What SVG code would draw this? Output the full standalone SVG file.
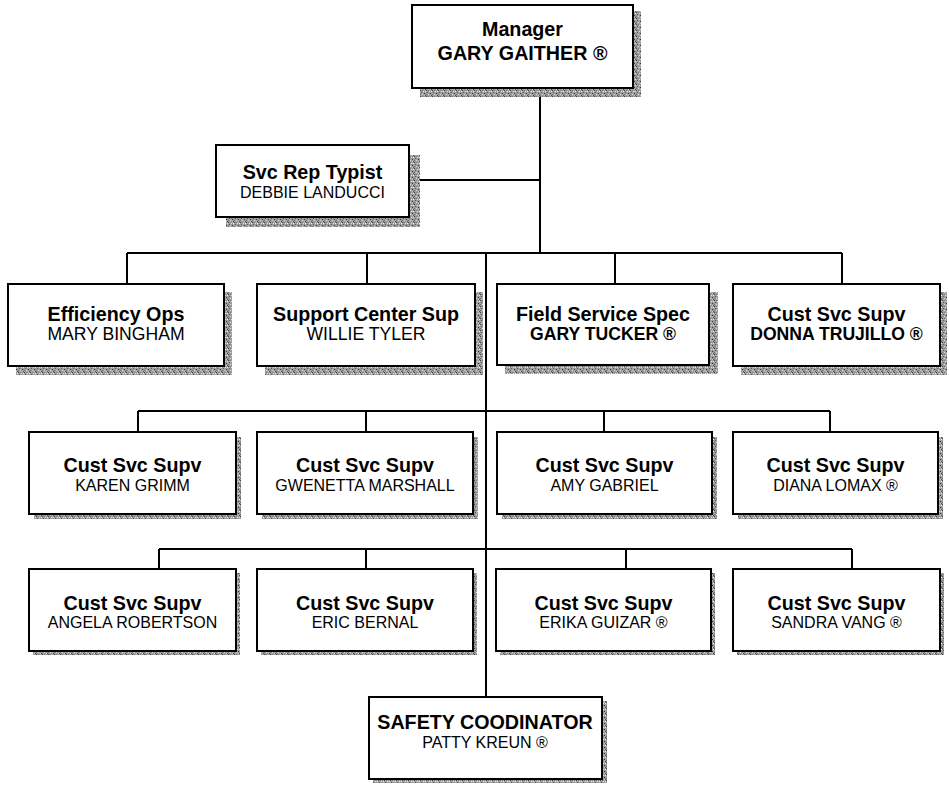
<svg xmlns="http://www.w3.org/2000/svg" width="949" height="785" viewBox="0 0 949 785">
  <defs>
    <!-- stippled grey used for the drop shadows -->
    <pattern id="stipple" width="6" height="6" patternUnits="userSpaceOnUse">
      <rect width="6" height="6" fill="#9e9e9e"/>
      <rect x="0" y="0" width="1" height="1" fill="#404040"/>
      <rect x="3" y="1" width="1" height="1" fill="#e0e0e0"/>
      <rect x="1" y="2" width="1" height="1" fill="#5a5a5a"/>
      <rect x="4" y="3" width="1" height="1" fill="#363636"/>
      <rect x="2" y="4" width="1" height="1" fill="#dcdcdc"/>
      <rect x="5" y="5" width="1" height="1" fill="#4a4a4a"/>
      <rect x="0" y="4" width="1" height="1" fill="#707070"/>
      <rect x="5" y="1" width="1" height="1" fill="#ececec"/>
      <rect x="2" y="0" width="1" height="1" fill="#808080"/>
      <rect x="4" y="5" width="1" height="1" fill="#c8c8c8"/>
    </pattern>
  </defs>
  <style>
    .box { fill: #ffffff; stroke: #000000; stroke-width: 2; }
    .shadow { fill: url(#stipple); }
    .link { fill: none; stroke: #000000; stroke-width: 2; }
    text { font-family: "Liberation Sans", Arial, sans-serif; fill: #000000; text-anchor: middle; }
    .title { font-size: 19.7px; font-weight: bold; }
    .name { font-size: 16px; }
    .name-lg { font-size: 17.6px; }
    .bname { font-size: 17.6px; font-weight: bold; }
  </style>

  <rect width="949" height="785" fill="#ffffff"/>

  <!-- reporting lines -->
  <g id="connectors" class="link">
    <path d="M540 88 V253"/>
    <path d="M409 180 H540"/>
    <path d="M127 253 H842"/>
    <path d="M127 253 V284 M367 253 V284 M615 253 V284 M842 253 V284"/>
    <path d="M486 253 V697"/>
    <path d="M138 411 H830"/>
    <path d="M138 411 V432 M366 411 V432 M604 411 V432 M830 411 V432"/>
    <path d="M159 549 H852"/>
    <path d="M159 549 V569 M366 549 V569 M626 549 V569 M852 549 V569"/>
  </g>

  <g id="manager">
    <rect class="shadow" x="420" y="11" width="221" height="86"/>
    <rect class="box" x="412" y="5" width="221" height="83"/>
    <text class="title" x="522.5" y="36">Manager</text>
    <text class="title" x="522.5" y="60">GARY GAITHER ®</text>
  </g>

  <g id="svc-rep-typist">
    <rect class="shadow" x="226" y="155" width="194" height="72"/>
    <rect class="box" x="216" y="145" width="193" height="72"/>
    <text class="title" x="312.5" y="179">Svc Rep Typist</text>
    <text class="name" x="312.5" y="198" font-size="15.7">DEBBIE LANDUCCI</text>
  </g>

  <!-- first tier -->
  <g id="efficiency-ops">
    <rect class="shadow" x="16" y="292" width="216" height="83"/>
    <rect class="box" x="8" y="284" width="216" height="82"/>
    <text class="title" x="116" y="321">Efficiency Ops</text>
    <text class="name-lg" x="116" y="340">MARY BINGHAM</text>
  </g>

  <g id="support-center-sup">
    <rect class="shadow" x="265" y="292" width="218" height="83"/>
    <rect class="box" x="257" y="284" width="218" height="82"/>
    <text class="title" x="366" y="321">Support Center Sup</text>
    <text class="name-lg" x="366" y="340">WILLIE TYLER</text>
  </g>

  <g id="field-service-spec">
    <rect class="shadow" x="505" y="292" width="213" height="82"/>
    <rect class="box" x="497" y="284" width="212" height="81"/>
    <text class="title" x="603" y="321">Field Service Spec</text>
    <text class="bname" x="603" y="340">GARY TUCKER ®</text>
  </g>

  <g id="cust-svc-trujillo">
    <rect class="shadow" x="741" y="292" width="206" height="83"/>
    <rect class="box" x="733" y="284" width="207" height="82"/>
    <text class="title" x="836.5" y="321">Cust Svc Supv</text>
    <text class="bname" x="836.5" y="340">DONNA TRUJILLO ®</text>
  </g>

  <!-- second tier -->
  <g id="cust-svc-grimm">
    <rect class="shadow" x="34" y="437" width="207" height="82"/>
    <rect class="box" x="29" y="432" width="207" height="82"/>
    <text class="title" x="132.5" y="472">Cust Svc Supv</text>
    <text class="name" x="132.5" y="491">KAREN GRIMM</text>
  </g>

  <g id="cust-svc-marshall">
    <rect class="shadow" x="262" y="437" width="216" height="82"/>
    <rect class="box" x="257" y="432" width="216" height="82"/>
    <text class="title" x="365" y="472">Cust Svc Supv</text>
    <text class="name" x="365" y="491">GWENETTA MARSHALL</text>
  </g>

  <g id="cust-svc-gabriel">
    <rect class="shadow" x="502" y="437" width="215" height="82"/>
    <rect class="box" x="497" y="432" width="215" height="82"/>
    <text class="title" x="604.5" y="472">Cust Svc Supv</text>
    <text class="name" x="604.5" y="491">AMY GABRIEL</text>
  </g>

  <g id="cust-svc-lomax">
    <rect class="shadow" x="738" y="437" width="205" height="82"/>
    <rect class="box" x="733" y="432" width="205" height="82"/>
    <text class="title" x="835.5" y="472">Cust Svc Supv</text>
    <text class="name" x="835.5" y="491">DIANA LOMAX ®</text>
  </g>

  <!-- third tier -->
  <g id="cust-svc-robertson">
    <rect class="shadow" x="33" y="573" width="207" height="82"/>
    <rect class="box" x="29" y="569" width="207" height="82"/>
    <text class="title" x="132.5" y="610">Cust Svc Supv</text>
    <text class="name" x="132.5" y="628">ANGELA ROBERTSON</text>
  </g>

  <g id="cust-svc-bernal">
    <rect class="shadow" x="261" y="573" width="216" height="82"/>
    <rect class="box" x="257" y="569" width="216" height="82"/>
    <text class="title" x="365" y="610">Cust Svc Supv</text>
    <text class="name" x="365" y="628">ERIC BERNAL</text>
  </g>

  <g id="cust-svc-guizar">
    <rect class="shadow" x="500" y="573" width="215" height="82"/>
    <rect class="box" x="496" y="569" width="215" height="82"/>
    <text class="title" x="603.5" y="610">Cust Svc Supv</text>
    <text class="name" x="603.5" y="628">ERIKA GUIZAR ®</text>
  </g>

  <g id="cust-svc-vang">
    <rect class="shadow" x="737" y="573" width="207" height="82"/>
    <rect class="box" x="733" y="569" width="207" height="82"/>
    <text class="title" x="836.5" y="610">Cust Svc Supv</text>
    <text class="name" x="836.5" y="628">SANDRA VANG ®</text>
  </g>

  <g id="safety-coordinator">
    <rect class="shadow" x="373" y="701" width="234" height="82"/>
    <rect class="box" x="369" y="697" width="233" height="82"/>
    <text class="title" x="485" y="729">SAFETY COODINATOR</text>
    <text class="name" x="485" y="748" font-size="15.5">PATTY KREUN ®</text>
  </g>
</svg>
